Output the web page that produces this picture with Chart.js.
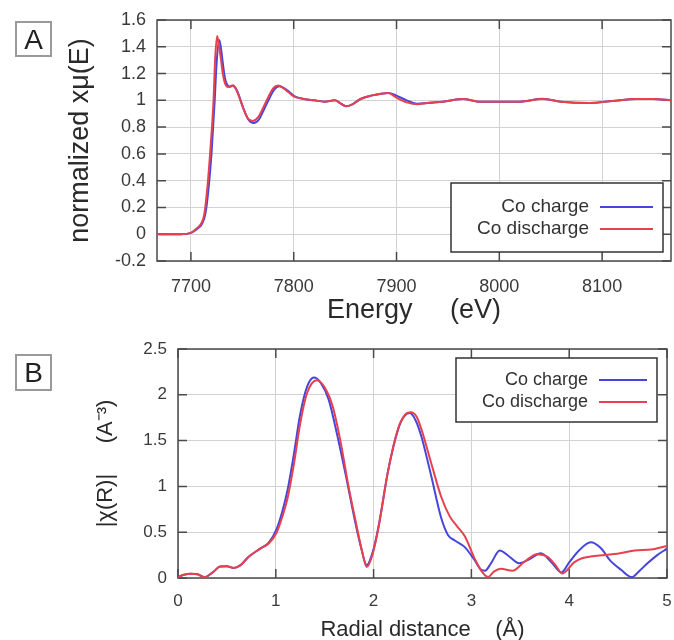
<!DOCTYPE html>
<html>
<head>
<meta charset="utf-8">
<script src="https://cdn.jsdelivr.net/npm/chart.js@4.4.1/dist/chart.umd.min.js"></script>
<style>
html, body { margin: 0; padding: 0; background: #fff; overflow: hidden; width: 674px; height: 640px; }
canvas { position: absolute; left: 0; }
.tag { position: absolute; width: 33px; height: 32px; border: 2px solid #9a9a9a; color: #222;
       font: 28px 'Liberation Sans', Arial, sans-serif; text-align: center; line-height: 33px; }
</style>
</head>
<body>
<canvas id="chartA" width="674" height="330" style="top:0"></canvas>
<canvas id="chartB" width="674" height="320" style="top:330px"></canvas>
<div class="tag" style="left:15px; top:21px;">A</div>
<div class="tag" style="left:15px; top:354px; height:33px;">B</div>
<script>
// --- panel A: normalized XANES, Co K-edge ---
const energyTicks = [7700, 7800, 7900, 8000, 8100];
const energyCharge = [7667, 7690, 7700, 7706, 7711, 7714, 7717, 7720, 7723, 7725, 7727.5, 7729, 7731, 7733, 7735, 7738, 7741, 7745, 7751, 7756, 7761, 7766, 7771, 7776, 7781, 7786, 7791, 7796, 7801, 7810, 7820, 7830, 7840, 7845, 7851, 7857, 7865, 7875, 7885, 7892, 7900, 7910, 7920, 7930, 7945, 7965, 7980, 8000, 8020, 8042, 8060, 8088, 8110, 8133, 8150, 8167];
const muCharge = [0, 0, 0.01, 0.04, 0.08, 0.15, 0.33, 0.6, 0.98, 1.28, 1.45, 1.4, 1.28, 1.17, 1.12, 1.1, 1.11, 1.07, 0.94, 0.855, 0.83, 0.855, 0.93, 1.01, 1.08, 1.105, 1.09, 1.06, 1.03, 1.01, 1.0, 0.99, 1.0, 0.98, 0.955, 0.97, 1.01, 1.035, 1.05, 1.055, 1.035, 1.0, 0.975, 0.98, 0.99, 1.01, 0.99, 0.99, 0.99, 1.012, 0.99, 0.98, 0.995, 1.01, 1.01, 1.0];
const energyDischarge = [7667, 7690, 7700, 7705, 7710, 7713, 7716, 7719, 7722, 7723.5, 7725.5, 7727, 7729, 7731, 7733, 7736, 7740, 7744, 7750, 7755, 7760, 7765, 7770, 7775, 7780, 7785, 7790, 7795, 7800, 7810, 7820, 7830, 7840, 7845, 7851, 7857, 7865, 7875, 7885, 7892, 7900, 7910, 7920, 7930, 7945, 7965, 7980, 8000, 8020, 8042, 8060, 8088, 8110, 8133, 8150, 8167];
const muDischarge = [0, 0, 0.01, 0.04, 0.08, 0.15, 0.35, 0.64, 1.0, 1.3, 1.48, 1.42, 1.32, 1.2, 1.13, 1.1, 1.11, 1.08, 0.96, 0.87, 0.845, 0.87, 0.94, 1.02, 1.09, 1.11, 1.09, 1.06, 1.03, 1.01, 1.0, 0.99, 1.0, 0.98, 0.955, 0.97, 1.01, 1.035, 1.05, 1.055, 1.02, 0.985, 0.97, 0.98, 0.99, 1.01, 0.99, 0.99, 0.99, 1.01, 0.99, 0.98, 0.995, 1.01, 1.01, 1.0];

// --- panel B: Fourier transform magnitude ---
const rCharge = [0, 0.06, 0.13, 0.2, 0.27, 0.36, 0.43, 0.5, 0.57, 0.64, 0.72, 0.84, 0.93, 1.01, 1.07, 1.12, 1.18, 1.25, 1.32, 1.39, 1.46, 1.54, 1.62, 1.71, 1.81, 1.87, 1.93, 1.99, 2.05, 2.15, 2.25, 2.31, 2.37, 2.43, 2.49, 2.59, 2.69, 2.76, 2.83, 2.93, 3.03, 3.1, 3.14, 3.2, 3.29, 3.38, 3.49, 3.6, 3.71, 3.82, 3.92, 4.0, 4.1, 4.22, 4.32, 4.42, 4.53, 4.64, 4.72, 4.8, 4.9, 5.0];
const chiCharge = [0.01, 0.035, 0.047, 0.04, 0.008, 0.066, 0.125, 0.128, 0.11, 0.14, 0.23, 0.32, 0.39, 0.54, 0.74, 0.96, 1.32, 1.79, 2.09, 2.19, 2.13, 1.95, 1.6, 1.15, 0.62, 0.34, 0.14, 0.28, 0.56, 1.18, 1.62, 1.76, 1.8, 1.72, 1.54, 1.11, 0.66, 0.47, 0.41, 0.34, 0.2, 0.09, 0.08, 0.16, 0.3, 0.24, 0.16, 0.21, 0.27, 0.17, 0.06, 0.17, 0.3, 0.39, 0.33, 0.19, 0.09, 0.01, 0.08, 0.16, 0.25, 0.32];
const rDischarge = [0, 0.06, 0.13, 0.2, 0.27, 0.36, 0.43, 0.5, 0.57, 0.64, 0.72, 0.84, 0.93, 1.01, 1.07, 1.12, 1.18, 1.25, 1.32, 1.42, 1.5, 1.58, 1.66, 1.74, 1.82, 1.88, 1.93, 1.99, 2.05, 2.15, 2.25, 2.32, 2.38, 2.44, 2.49, 2.59, 2.69, 2.78, 2.85, 2.93, 3.03, 3.1, 3.17, 3.23, 3.3, 3.42, 3.54, 3.67, 3.78, 3.86, 3.93, 4.05, 4.13, 4.22, 4.37, 4.52, 4.67, 4.84, 5.0];
const chiDischarge = [0.01, 0.035, 0.047, 0.04, 0.008, 0.066, 0.125, 0.128, 0.11, 0.14, 0.23, 0.32, 0.38, 0.5, 0.68, 0.87, 1.21, 1.69, 2.02, 2.16, 2.08, 1.88, 1.5, 1.02, 0.6, 0.3, 0.12, 0.26, 0.55, 1.18, 1.63, 1.78, 1.81, 1.76, 1.62, 1.25, 0.89, 0.67, 0.57, 0.46, 0.22, 0.08, 0.01, 0.07, 0.1, 0.08, 0.175, 0.26, 0.23, 0.14, 0.05, 0.17, 0.215, 0.235, 0.25, 0.27, 0.3, 0.31, 0.35];

const seriesLabels = ['Co charge', 'Co discharge'];
const seriesColors = ['#4646dc', '#e8404e'];

Chart.defaults.font.family = "'Liberation Sans', Arial, sans-serif";
Chart.defaults.color = '#3a3a3a';

const pts = (xs, ys) => xs.map((x, i) => ({ x: x, y: ys[i] }));
const trim = v => String(+Number(v).toFixed(2));

// fixed axis box sizes, no extra room reserved for overhanging labels
function fixBox(w, h) {
    return s => {
        if (w) s.width = w;
        if (h) s.height = h;
        s.paddingLeft = s.paddingRight = s.paddingTop = s.paddingBottom = 0;
    };
}

// gnuplot-like frame with inward ticks on all four sides
const frameTicks = {
    id: 'frameTicks',
    beforeDatasetsDraw(chart) {
        const { ctx, chartArea: a, scales: { x, y } } = chart;
        const len = 9;
        ctx.save();
        ctx.strokeStyle = '#4a4a4a';
        ctx.lineWidth = 1.5;
        ctx.beginPath();
        x.ticks.forEach(t => {
            const px = x.getPixelForValue(t.value);
            ctx.moveTo(px, a.top); ctx.lineTo(px, a.top + len);
            ctx.moveTo(px, a.bottom); ctx.lineTo(px, a.bottom - len);
        });
        y.ticks.forEach(t => {
            const py = y.getPixelForValue(t.value);
            ctx.moveTo(a.left, py); ctx.lineTo(a.left + len, py);
            ctx.moveTo(a.right, py); ctx.lineTo(a.right - len, py);
        });
        ctx.stroke();
        ctx.strokeRect(a.left, a.top, a.right - a.left, a.bottom - a.top);
        ctx.restore();
    }
};

// boxed legend: text right-aligned, line sample after it
const boxLegend = {
    id: 'boxLegend',
    afterDatasetsDraw(chart, args, o) {
        const ctx = chart.ctx;
        ctx.save();
        ctx.fillStyle = '#fff';
        ctx.fillRect(o.x, o.y, o.w, o.h);
        ctx.strokeStyle = '#333';
        ctx.lineWidth = 1.5;
        ctx.strokeRect(o.x, o.y, o.w, o.h);
        ctx.font = o.size + "px 'Liberation Sans', Arial, sans-serif";
        ctx.textAlign = 'right';
        ctx.textBaseline = 'middle';
        chart.data.datasets.forEach((ds, i) => {
            const yy = o.rows[i];
            ctx.fillStyle = '#333';
            ctx.fillText(ds.label, o.textRight, yy);
            ctx.strokeStyle = ds.borderColor;
            ctx.lineWidth = 2;
            ctx.beginPath();
            ctx.moveTo(o.lineX[0], yy);
            ctx.lineTo(o.lineX[1], yy);
            ctx.stroke();
        });
        ctx.restore();
    }
};

function lineSet(i, data) {
    return {
        label: seriesLabels[i],
        data: data,
        showLine: true,
        borderColor: seriesColors[i],
        borderWidth: 2,
        pointRadius: 0,
        cubicInterpolationMode: 'monotone',
        order: i === 0 ? 1 : 0
    };
}

new Chart(document.getElementById('chartA'), {
    type: 'scatter',
    data: {
        datasets: [
            lineSet(0, pts(energyCharge, muCharge)),
            lineSet(1, pts(energyDischarge, muDischarge))
        ]
    },
    plugins: [frameTicks, boxLegend],
    options: {
        responsive: false,
        animation: false,
        layout: { padding: { left: 64, top: 20, right: 3, bottom: 0 } },
        plugins: {
            legend: { display: false },
            tooltip: { enabled: false },
            boxLegend: { x: 451, y: 183, w: 212, h: 69, size: 19, textRight: 589, lineX: [600, 653], rows: [207, 229] }
        },
        scales: {
            x: {
                type: 'linear', min: 7667, max: 8167,
                afterBuildTicks: s => { s.ticks = energyTicks.map(v => ({ value: v })); },
                afterFit: fixBox(0, 69),
                grid: { color: '#d2d2d2', drawTicks: false },
                border: { display: false },
                ticks: { padding: 15, font: { size: 18 }, callback: v => String(v) },
                title: { display: true, text: 'Energy     (eV)', color: '#2a2a2a', font: { size: 27 }, padding: { top: 0, bottom: 3 } }
            },
            y: {
                min: -0.2, max: 1.6,
                afterFit: fixBox(93, 0),
                grid: { color: '#d2d2d2', drawTicks: false },
                border: { display: false },
                ticks: { stepSize: 0.2, padding: 11, font: { size: 18 }, callback: v => trim(v) },
                title: { display: true, text: 'normalized xμ(E)', color: '#2a2a2a', font: { size: 27 }, padding: 0 }
            }
        }
    }
});

new Chart(document.getElementById('chartB'), {
    type: 'scatter',
    data: {
        datasets: [
            lineSet(0, pts(rCharge, chiCharge)),
            lineSet(1, pts(rDischarge, chiDischarge))
        ]
    },
    plugins: [frameTicks, boxLegend],
    options: {
        responsive: false,
        animation: false,
        layout: { padding: { left: 93, top: 19, right: 7, bottom: 0 } },
        plugins: {
            legend: { display: false },
            tooltip: { enabled: false },
            boxLegend: { x: 456, y: 28, w: 201, h: 64, size: 18, textRight: 588, lineX: [599, 647], rows: [50, 72] }
        },
        scales: {
            x: {
                type: 'linear', min: 0, max: 5,
                afterFit: fixBox(0, 72),
                grid: { color: '#d2d2d2', drawTicks: false },
                border: { display: false },
                ticks: { stepSize: 1, padding: 13, font: { size: 17 }, callback: v => trim(v) },
                title: { display: true, text: 'Radial distance    (Å)', color: '#2a2a2a', font: { size: 22 }, padding: { top: 0, bottom: 7 } }
            },
            y: {
                min: 0, max: 2.5,
                afterFit: fixBox(85, 0),
                grid: { color: '#d2d2d2', drawTicks: false },
                border: { display: false },
                ticks: { stepSize: 0.5, padding: 11, font: { size: 17 }, callback: v => trim(v) },
                title: { display: true, text: '|χ(R)|     (A⁻³)', color: '#2a2a2a', font: { size: 22 }, padding: 0 }
            }
        }
    }
});
</script>
</body>
</html>
